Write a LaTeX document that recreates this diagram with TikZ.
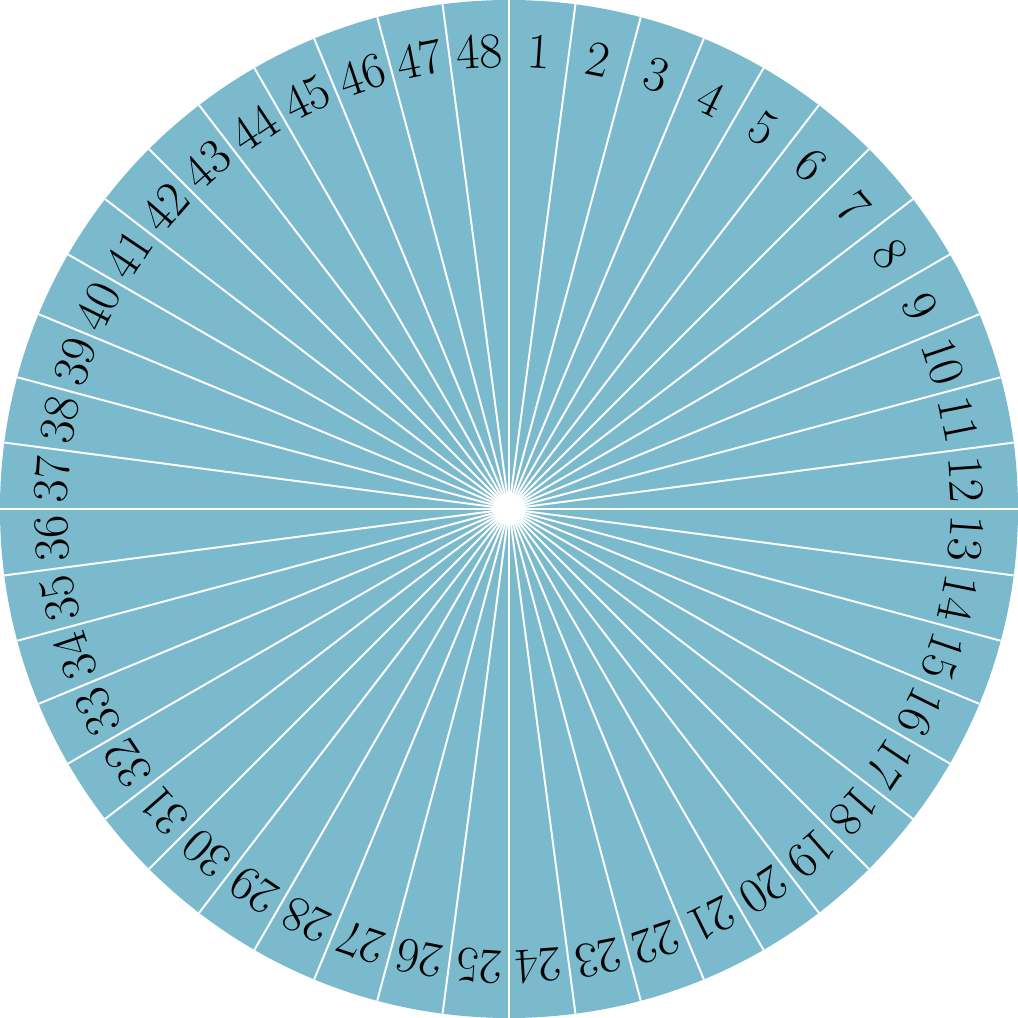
\documentclass[tikz,border=0pt]{standalone}
\usepackage{fontspec}
\setmainfont{lmroman17-regular.otf}
\definecolor{sectorblue}{RGB}{123,186,204}
\tikzset{
  divider/.style={white, line width=1.1pt},
  numlabel/.style={font=\fontsize{28}{30}\selectfont, text=black, inner sep=0pt}
}
\begin{document}
\begin{tikzpicture}
\useasboundingbox (-10,-10) rectangle (10,10);
\fill[sectorblue] (0,0) circle (10);
\foreach \i in {0,...,47} {
  \coordinate (e\i) at ({90-7.5*\i}:10);
  \draw[divider] (0,0) -- (e\i);
}
\fill[white] (0,0) circle (0.3);
\foreach \i in {1,...,48} {
  \pgfmathsetmacro{\ang}{90-7.5*(\i-0.5)}
  \pgfmathsetmacro{\rot}{-7.5*(\i-0.5)}
  \node[numlabel, rotate=\rot] (l\i) at (\ang:9.0) {\i};
}
\end{tikzpicture}
\end{document}
